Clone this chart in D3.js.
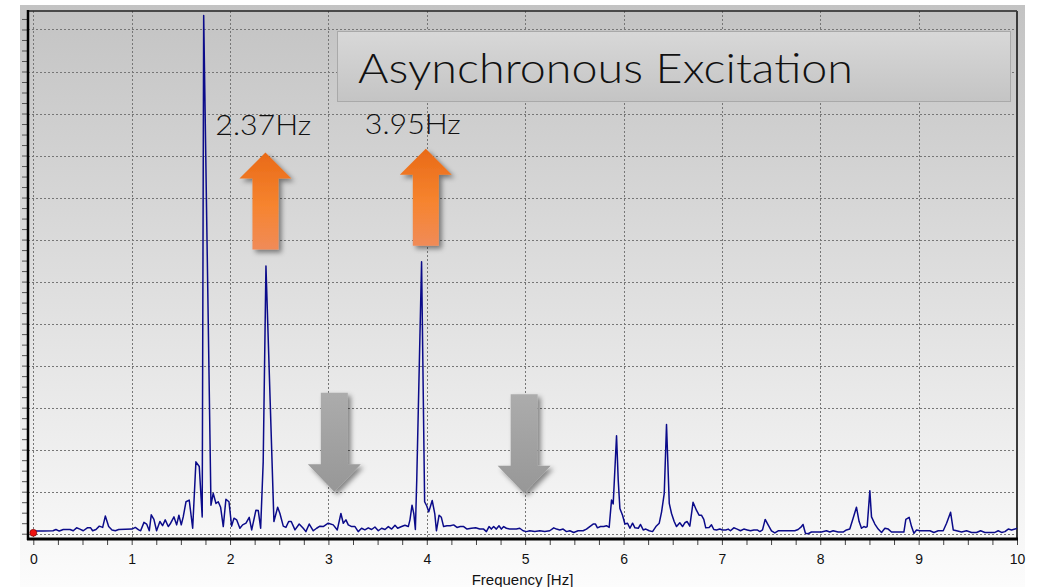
<!DOCTYPE html>
<html>
<head>
<meta charset="utf-8">
<script src="https://cdn.jsdelivr.net/npm/d3@7"></script>
<style>
  html, body { margin: 0; padding: 0; background: #ffffff; }
  svg { display: block; }
</style>
</head>
<body>
<div id="chart-div"></div>
<script>
// spectrum (frequency in Hz, amplitude in grid units)
const spectrumFreq = [
  0, 0.10, 0.20, 0.23, 0.264, 0.305, 0.373, 0.406, 0.44, 0.474, 0.508, 0.549, 0.583, 0.603, 0.637, 0.671, 0.705, 0.732, 0.766, 0.80, 0.834, 0.868,
  1.003, 1.037, 1.071, 1.091, 1.125, 1.152, 1.179, 1.199, 1.226, 1.253, 1.287, 1.314, 1.341, 1.372, 1.396, 1.43, 1.457, 1.48, 1.504, 1.524, 1.552, 1.585, 1.62, 1.653, 1.687, 1.717, 1.732,
  1.806, 1.829, 1.857, 1.88, 1.904, 1.931, 1.958, 1.989, 2.016, 2.04, 2.067, 2.10, 2.128, 2.162, 2.195, 2.22, 2.263, 2.287, 2.311, 2.337, 2.365,
  2.446, 2.484, 2.507, 2.541, 2.568, 2.596, 2.622, 2.66, 2.703, 2.744, 2.771, 2.805, 2.846, 2.88, 2.914, 2.947, 2.998,
  3.049, 3.09, 3.127, 3.151, 3.178, 3.202, 3.236, 3.27, 3.303, 3.337, 3.371, 3.405, 3.439, 3.473, 3.507, 3.541, 3.575, 3.609, 3.643, 3.677, 3.704, 3.744, 3.778, 3.812, 3.829, 3.85, 3.868, 3.884, 3.898, 3.947,
  3.978, 4.0, 4.02, 4.055, 4.081, 4.098, 4.125, 4.148, 4.171, 4.205, 4.239, 4.273, 4.307, 4.341, 4.375, 4.409, 4.453, 4.497, 4.538, 4.578, 4.606, 4.633, 4.656, 4.68, 4.707, 4.734, 4.758, 4.782, 4.809, 4.843, 4.877, 4.911, 4.945, 4.979,
  5.013, 5.047, 5.098, 5.149, 5.199, 5.25, 5.291, 5.318, 5.352, 5.386, 5.42, 5.454, 5.494, 5.538, 5.589, 5.623, 5.657, 5.691, 5.715, 5.735, 5.766, 5.799, 5.827, 5.854, 5.878, 5.895, 5.929, 5.946, 5.963, 5.99,
  6.014, 6.041, 6.065, 6.092, 6.116, 6.15, 6.173, 6.2, 6.227, 6.261, 6.295, 6.329, 6.363, 6.387, 6.414, 6.437, 6.465, 6.488, 6.515, 6.539,
  6.572, 6.6, 6.623, 6.647, 6.674, 6.707, 6.741, 6.768, 6.792, 6.816, 6.836, 6.87, 6.894, 6.918, 6.945, 6.979,
  7.006, 7.04, 7.064, 7.087, 7.121, 7.155, 7.189, 7.223, 7.257, 7.291, 7.325, 7.359, 7.386, 7.413, 7.44, 7.47, 7.504, 7.538, 7.572, 7.623, 7.691, 7.741, 7.775, 7.809, 7.825, 7.849, 7.876, 7.91, 7.961,
  8.012, 8.063, 8.097, 8.131, 8.181, 8.232, 8.266, 8.3, 8.334, 8.368, 8.395, 8.419, 8.443, 8.463, 8.477, 8.504, 8.521, 8.555, 8.589, 8.623, 8.657, 8.691, 8.724, 8.758, 8.809, 8.85, 8.87, 8.904, 8.928, 8.952, 8.979,
  9.013, 9.064, 9.115, 9.155, 9.199, 9.25, 9.284, 9.325, 9.352, 9.386, 9.437, 9.487, 9.538, 9.589, 9.63, 9.674, 9.725, 9.776, 9.809, 9.843, 9.877, 9.911, 9.945, 9.979, 10.0
];
const spectrumAmp = [
  0.063, 0.063, 0.07, 0.10, 0.063, 0.10, 0.10, 0.07, 0.14, 0.11, 0.07, 0.14, 0.14, 0.07, 0.10, 0.18, 0.15, 0.42, 0.17, 0.09, 0.07, 0.10,
  0.11, 0.15, 0.09, 0.07, 0.27, 0.23, 0.07, 0.45, 0.34, 0.07, 0.29, 0.19, 0.33, 0.17, 0.25, 0.40, 0.21, 0.44, 0.21, 0.40, 0.76, 0.80, 0.13, 1.71, 1.60, 0.40, 12.33,
  0.68, 0.96, 0.72, 0.76, 0.63, 0.17, 0.82, 0.76, 0.18, 0.37, 0.33, 0.13, 0.21, 0.25, 0.39, 0.09, 0.56, 0.55, 0.13, 1.71, 6.37,
  0.29, 0.63, 0.48, 0.18, 0.15, 0.29, 0.29, 0.09, 0.23, 0.13, 0.05, 0.23, 0.07, 0.13, 0.18, 0.17, 0.25,
  0.21, 0.09, 0.48, 0.25, 0.33, 0.21, 0.17, 0.17, 0.05, 0.13, 0.09, 0.14, 0.10, 0.16, 0.07, 0.13, 0.10, 0.17, 0.11, 0.20, 0.13, 0.17, 0.20, 0.17, 0.33, 0.68, 0.48, 0.10, 1.28, 6.47,
  0.76, 0.66, 0.52, 0.79, 0.48, 0.07, 0.44, 0.39, 0.17, 0.19, 0.19, 0.21, 0.15, 0.17, 0.17, 0.11, 0.13, 0.14, 0.11, 0.11, 0.05, 0.17, 0.11, 0.17, 0.11, 0.19, 0.11, 0.17, 0.13, 0.11, 0.11, 0.11, 0.13, 0.07,
  0.05, 0.07, 0.05, 0.07, 0.05, 0.07, 0.14, 0.11, 0.09, 0.11, 0.05, 0.07, 0.03, 0.07, 0.07, 0.11, 0.17, 0.23, 0.23, 0.14, 0.17, 0.17, 0.19, 0.15, 0.80, 0.71, 2.33, 1.28, 0.60, 0.44,
  0.23, 0.25, 0.13, 0.25, 0.14, 0.13, 0.22, 0.09, 0.11, 0.07, 0.05, 0.17, 0.25, 0.52, 0.96, 2.60, 0.72, 0.48, 0.29, 0.17,
  0.26, 0.17, 0.26, 0.29, 0.18, 0.75, 0.56, 0.44, 0.44, 0.34, 0.14, 0.15, 0.21, 0.10, 0.09, 0.11,
  0.09, 0.09, 0.11, 0.07, 0.14, 0.11, 0.07, 0.11, 0.09, 0.07, 0.09, 0.09, 0.05, 0.09, 0.34, 0.21, 0.07, 0.02, 0.07, 0.07, 0.07, 0.07, 0.10, 0.17, 0.22, 0.01, 0.0, 0.04, 0.04,
  0.04, 0.07, 0.04, 0.07, 0.04, 0.04, 0.09, 0.11, 0.37, 0.63, 0.29, 0.13, 0.17, 0.15, 0.17, 1.02, 0.40, 0.23, 0.11, 0.03, 0.13, 0.11, 0.04, 0.04, 0.04, 0.04, 0.34, 0.39, 0.17, 0.01, 0.09,
  0.07, 0.07, 0.07, 0.03, 0.07, 0.07, 0.25, 0.51, 0.09, 0.07, 0.04, 0.07, 0.03, 0.03, 0.07, 0.03, 0.03, 0.03, 0.07, 0.03, 0.05, 0.11, 0.09, 0.11, 0.13
];
const xTickLabels = [0, 1, 2, 3, 4, 5, 6, 7, 8, 9, 10];
const yGridValues = [0, 1, 2, 3, 4, 5, 6, 7, 8, 9, 10, 11, 12];
const markerPoint = [0, 0.02];

// annotations
const titleText = "Asynchronous Excitation";
const peakLabels = ["2.37Hz", "3.95Hz"];
const peakLabelF = [1.85, 3.37];
const peakLabelV = [9.49, 9.52];
const upArrowF = [2.36, 3.99];
const upArrowTipV = [9.07, 9.16];
const downArrowF = [3.06, 4.99];
const downArrowTipV = [1.0, 0.96];

const svgWidth = 1038;
const svgHeight = 587;
const plot = { left: 28, right: 1017, top: 11, bottom: 539 };
const annoFont = "Lato, 'DejaVu Sans', sans-serif";

let svg = d3.select("#chart-div").append("svg")
  .attr("width", svgWidth)
  .attr("height", svgHeight);

let defs = svg.append("defs");
let bg = defs.append("linearGradient").attr("id", "bg").attr("x1", 0).attr("y1", 0).attr("x2", 0).attr("y2", 1);
bg.append("stop").attr("offset", "0%").attr("stop-color", "#c3c3c3");
bg.append("stop").attr("offset", "100%").attr("stop-color", "#fcfcfc");

let boxGrad = defs.append("linearGradient").attr("id", "boxGrad").attr("x1", 0).attr("y1", 0).attr("x2", 0).attr("y2", 1);
boxGrad.append("stop").attr("offset", "0%").attr("stop-color", "#d8d8d8");
boxGrad.append("stop").attr("offset", "100%").attr("stop-color", "#c4c4c4");

let orange = defs.append("linearGradient").attr("id", "orange").attr("x1", 0).attr("y1", 0).attr("x2", 0).attr("y2", 1);
orange.append("stop").attr("offset", "0%").attr("stop-color", "#e96a17");
orange.append("stop").attr("offset", "55%").attr("stop-color", "#f6842f");
orange.append("stop").attr("offset", "100%").attr("stop-color", "#f08b58");

let grey = defs.append("linearGradient").attr("id", "grey").attr("x1", 0).attr("y1", 0).attr("x2", 0).attr("y2", 1);
grey.append("stop").attr("offset", "0%").attr("stop-color", "#acacac");
grey.append("stop").attr("offset", "100%").attr("stop-color", "#979797");

let shadow = defs.append("filter").attr("id", "shadow").attr("x", "-30%").attr("y", "-30%").attr("width", "160%").attr("height", "160%");
shadow.append("feDropShadow").attr("dx", 3).attr("dy", 3).attr("stdDeviation", 2.5)
  .attr("flood-color", "#000").attr("flood-opacity", 0.45);

// background panel
svg.append("rect")
  .attr("x", 20).attr("y", 5)
  .attr("width", 1005).attr("height", svgHeight - 5)
  .attr("fill", "url(#bg)");

let x = d3.scaleLinear().domain([-0.054, 10]).range([plot.left, plot.right]);
let y = d3.scaleLinear().domain([-0.126, 12.44]).range([plot.bottom, plot.top]);

// grid
let grid = svg.append("g").attr("class", "grid")
  .attr("stroke", "#767676").attr("stroke-width", 1).attr("stroke-dasharray", "2,2");
grid.selectAll("line.h").data(yGridValues).enter().append("line")
  .attr("class", "h")
  .attr("x1", plot.left).attr("x2", plot.right)
  .attr("y1", d => Math.round(y(d)) + 0.5).attr("y2", d => Math.round(y(d)) + 0.5);
grid.selectAll("line.v").data(xTickLabels).enter().append("line")
  .attr("class", "v")
  .attr("x1", d => Math.round(x(d)) + 0.5).attr("x2", d => Math.round(x(d)) + 0.5)
  .attr("y1", plot.top).attr("y2", plot.bottom);

// axes
let xMinor = d3.range(0, 40.5).map(i => i / 4);
let xAxis = d3.axisBottom(x)
  .tickValues(xMinor)
  .tickSize(6)
  .tickPadding(9)
  .tickFormat(d => Number.isInteger(d) ? d : "");
let gx = svg.append("g")
  .attr("transform", `translate(0,${plot.bottom})`)
  .call(xAxis);
gx.select(".domain").remove();
gx.selectAll(".tick line").attr("stroke", "#444").attr("stroke-width", 1);
gx.selectAll(".tick text")
  .attr("font-family", "Liberation Sans, Arial, sans-serif")
  .attr("font-size", 14).attr("fill", "#111");

let yMinor = d3.range(0, 50).map(i => i / 4);
let yAxis = d3.axisLeft(y).tickValues(yMinor).tickSize(6).tickFormat("");
let gy = svg.append("g")
  .attr("transform", `translate(${plot.left},0)`)
  .call(yAxis);
gy.select(".domain").remove();
gy.selectAll(".tick line").attr("stroke", "#555").attr("stroke-width", 1);

svg.append("text")
  .attr("x", (plot.left + plot.right) / 2)
  .attr("y", 585)
  .attr("text-anchor", "middle")
  .attr("font-family", "Liberation Sans, Arial, sans-serif")
  .attr("font-size", 15).attr("fill", "#111")
  .text("Frequency [Hz]");

// frame
svg.append("line").attr("x1", plot.left - 1).attr("x2", plot.right).attr("y1", plot.top).attr("y2", plot.top)
  .attr("stroke", "#222").attr("stroke-width", 1.5);
svg.append("line").attr("x1", plot.right).attr("x2", plot.right).attr("y1", plot.top).attr("y2", plot.bottom)
  .attr("stroke", "#3a3a3a").attr("stroke-width", 2);
svg.append("line").attr("x1", plot.left).attr("x2", plot.left).attr("y1", plot.top - 1).attr("y2", plot.bottom + 1)
  .attr("stroke", "#000").attr("stroke-width", 2.5);
svg.append("line").attr("x1", plot.left - 1).attr("x2", plot.right + 1).attr("y1", plot.bottom).attr("y2", plot.bottom)
  .attr("stroke", "#000").attr("stroke-width", 3);

// spectrum line
let points = spectrumFreq.map((f, i) => [f, spectrumAmp[i]]);
let line = d3.line().x(d => x(d[0])).y(d => y(d[1]));
svg.append("path")
  .datum(points)
  .attr("d", line)
  .attr("fill", "none")
  .attr("stroke", "#0b0b8a")
  .attr("stroke-width", 1.5)
  .attr("stroke-linejoin", "round");

svg.append("circle")
  .attr("cx", x(markerPoint[0])).attr("cy", y(markerPoint[1]))
  .attr("r", 3.5)
  .attr("fill", "#ee1111").attr("stroke", "#600").attr("stroke-width", 0.6);

// arrows
function arrowPath(tx, ty, dir, headHalf, headH, shaftHalf, len) {
  // dir = 1 for up-pointing (tip on top), -1 for down-pointing
  let b = ty + dir * headH;
  let e = ty + dir * len;
  return `M${tx},${ty} L${tx + headHalf},${b} L${tx + shaftHalf},${b} L${tx + shaftHalf},${e} ` +
    `L${tx - shaftHalf},${e} L${tx - shaftHalf},${b} L${tx - headHalf},${b} Z`;
}

svg.append("g").selectAll("path").data(upArrowF).enter().append("path")
  .attr("d", (d, i) => arrowPath(x(d), y(upArrowTipV[i]), 1, 26, 26, 13, 97))
  .attr("fill", "url(#orange)")
  .attr("filter", "url(#shadow)");

svg.append("g").selectAll("path").data(downArrowF).enter().append("path")
  .attr("d", (d, i) => arrowPath(x(d), y(downArrowTipV[i]), -1, 26.5, 27.5, 13.5, 99))
  .attr("fill", "url(#grey)")
  .attr("filter", "url(#shadow)");

// peak labels
svg.append("g").selectAll("text").data(peakLabels).enter().append("text")
  .attr("x", (d, i) => x(peakLabelF[i]))
  .attr("y", (d, i) => y(peakLabelV[i]))
  .attr("font-family", annoFont)
  .attr("font-weight", 300)
  .attr("font-size", 28)
  .attr("fill", "#111")
  .attr("textLength", 96)
  .attr("lengthAdjust", "spacingAndGlyphs")
  .text(d => d);

// title box
svg.append("rect")
  .attr("x", 337.5).attr("y", 31.5)
  .attr("width", 673).attr("height", 70)
  .attr("fill", "url(#boxGrad)")
  .attr("stroke", "#a9a9a9").attr("stroke-width", 1);
svg.append("text")
  .attr("x", 358).attr("y", 83)
  .attr("font-family", annoFont)
  .attr("font-weight", 300)
  .attr("font-size", 42)
  .attr("fill", "#111")
  .attr("textLength", 495)
  .attr("lengthAdjust", "spacingAndGlyphs")
  .text(titleText);
</script>
</body>
</html>
